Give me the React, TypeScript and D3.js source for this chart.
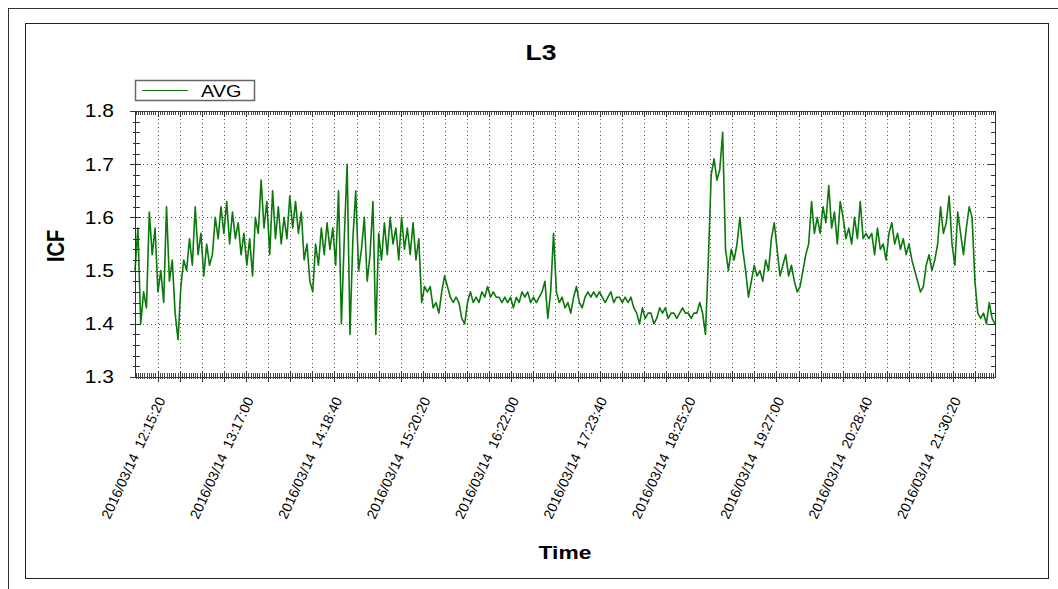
import React from 'react';
import * as d3 from 'd3';

const chartTitle = 'L3';
const seriesName = 'AVG';
const yAxisTitle = 'ICF';
const xAxisTitle = 'Time';
const datePrefix = '2016/03/14';
const startTime = '2016-03-14T11:59:30Z';
const endTime = '2016-03-14T21:59:30Z';
const sampleSeconds = 120;

// ICF readings, one every 2 minutes from 11:59:30
const avgValues = [
  1.50, 1.58, 1.40, 1.46, 1.43, 1.61, 1.53, 1.58, 1.46, 1.50,
  1.44, 1.62, 1.48, 1.52, 1.42, 1.37, 1.47, 1.52, 1.50, 1.56,
  1.51, 1.62, 1.53, 1.57, 1.49, 1.55, 1.51, 1.53, 1.60, 1.56,
  1.62, 1.57, 1.63, 1.55, 1.61, 1.56, 1.59, 1.53, 1.57, 1.51,
  1.56, 1.49, 1.60, 1.57, 1.67, 1.58, 1.63, 1.53, 1.65, 1.56,
  1.62, 1.55, 1.60, 1.56, 1.64, 1.58, 1.63, 1.57, 1.61, 1.52,
  1.55, 1.48, 1.46, 1.55, 1.51, 1.58, 1.53, 1.59, 1.54, 1.58,
  1.51, 1.65, 1.40, 1.56, 1.70, 1.38, 1.56, 1.65, 1.50, 1.54,
  1.60, 1.48, 1.53, 1.63, 1.38, 1.57, 1.52, 1.59, 1.53, 1.60,
  1.55, 1.58, 1.52, 1.60, 1.54, 1.58, 1.53, 1.59, 1.52, 1.56,
  1.44, 1.47, 1.46, 1.47, 1.43, 1.44, 1.42, 1.46, 1.49, 1.47,
  1.45, 1.44, 1.45, 1.44, 1.41, 1.40, 1.44, 1.46, 1.44, 1.45,
  1.44, 1.46, 1.45, 1.47, 1.45, 1.46, 1.45, 1.45, 1.44, 1.45,
  1.44, 1.45, 1.43, 1.45, 1.44, 1.46, 1.45, 1.46, 1.44, 1.45,
  1.44, 1.45, 1.46, 1.48, 1.41, 1.46, 1.57, 1.46, 1.44, 1.45,
  1.43, 1.44, 1.42, 1.45, 1.47, 1.44, 1.43, 1.45, 1.46, 1.45,
  1.46, 1.45, 1.46, 1.45, 1.44, 1.45, 1.46, 1.44, 1.45, 1.45,
  1.44, 1.45, 1.44, 1.45, 1.43, 1.42, 1.40, 1.43, 1.41, 1.42,
  1.42, 1.40, 1.41, 1.43, 1.42, 1.43, 1.41, 1.42, 1.42, 1.41,
  1.42, 1.43, 1.42, 1.42, 1.41, 1.42, 1.42, 1.44, 1.42, 1.38,
  1.52, 1.68, 1.71, 1.67, 1.69, 1.76, 1.54, 1.50, 1.54, 1.52,
  1.55, 1.60, 1.54, 1.50, 1.45, 1.48, 1.51, 1.49, 1.50, 1.48,
  1.52, 1.50, 1.56, 1.59, 1.54, 1.49, 1.51, 1.53, 1.49, 1.51,
  1.48, 1.46, 1.47, 1.50, 1.53, 1.55, 1.63, 1.57, 1.60, 1.57,
  1.62, 1.59, 1.66, 1.58, 1.61, 1.55, 1.63, 1.60, 1.56, 1.58,
  1.55, 1.60, 1.56, 1.63, 1.56, 1.57, 1.56, 1.57, 1.53, 1.58,
  1.54, 1.55, 1.52, 1.57, 1.59, 1.55, 1.57, 1.54, 1.56, 1.53,
  1.55, 1.52, 1.50, 1.48, 1.46, 1.47, 1.51, 1.53, 1.50, 1.52,
  1.55, 1.62, 1.57, 1.59, 1.64, 1.55, 1.51, 1.61, 1.57, 1.53,
  1.58, 1.62, 1.60, 1.48, 1.42, 1.41, 1.42, 1.40, 1.44, 1.41,
  1.40,
];

const xTickLabels = ['12:15:20', '13:17:00', '14:18:40', '15:20:20', '16:22:00', '17:23:40', '18:25:20', '19:27:00', '20:28:40', '21:30:20'];
const gridPerLabel = 4;
const minorPerGrid = 10;
const yTicks = [1.3, 1.4, 1.5, 1.6, 1.7, 1.8];
const yMinorStep = 0.02;

const W = 1058;
const H = 589;
const M = { left: 135, right: 995, top: 111, bottom: 377 };
const FONT = "'Liberation Sans', Arial, sans-serif";
const GREEN = '#0b780b';
const SX = 1.2;

export default function App() {
  const t0 = new Date(startTime);
  const t1 = new Date(endTime);
  const x = d3.scaleUtc().domain([t0, t1]).range([M.left, M.right]);
  const y = d3.scaleLinear().domain([1.3, 1.8]).range([M.bottom, M.top]);

  const data = avgValues.map((v, i) => ({ t: new Date(t0.getTime() + i * sampleSeconds * 1000), v }));
  const line = d3.line<{ t: Date; v: number }>().x(d => x(d.t)).y(d => y(d.v));

  const labelTimes = xTickLabels.map(s => new Date(`2016-03-14T${s}Z`));
  const labelStep = labelTimes[1].getTime() - labelTimes[0].getTime();
  const gridStep = labelStep / gridPerLabel;
  const minorStep = gridStep / minorPerGrid;
  const gridTimes: Date[] = [];
  for (let t = labelTimes[0].getTime(); t <= t1.getTime(); t += gridStep) gridTimes.push(new Date(t));
  const minorTimes: Date[] = [];
  let mt = labelTimes[0].getTime();
  while (mt - minorStep >= t0.getTime()) mt -= minorStep;
  for (; mt <= t1.getTime(); mt += minorStep) minorTimes.push(new Date(mt));

  const yMinor = d3.range(1.3, 1.8001, yMinorStep);

  return (
    <svg width={W} height={H} style={{ position: 'absolute', left: 0, top: 0, background: '#fff' }}
      fontFamily={FONT}>
      <rect x={0} y={0} width={W} height={H} fill="#fff" />
      <rect x={8.5} y={8.5} width={W + 20} height={H + 20} fill="none" stroke="#333" />
      <rect x={25.5} y={23.5} width={1023} height={555} fill="none" stroke="#222" />

      <text transform={`translate(541,60) scale(${SX},1)`} textAnchor="middle" fontSize={22} fontWeight="bold">{chartTitle}</text>

      {/* legend */}
      <rect x={135.5} y={80.5} width={119} height={20} fill="#fff" stroke="#666" strokeWidth={1.5} />
      <line x1={142} x2={188} y1={90.5} y2={90.5} stroke={GREEN} strokeWidth={1} />
      <text transform={`translate(201,97) scale(${SX},1)`} fontSize={16.5}>{seriesName}</text>

      {/* grid */}
      {yTicks.slice(1, -1).map(v => (
        <line key={'hg' + v} x1={M.left} x2={M.right} y1={Math.round(y(v)) + 0.5} y2={Math.round(y(v)) + 0.5}
          stroke="#555" strokeDasharray="1 3" />
      ))}
      {gridTimes.map((t, i) => (
        <line key={'vg' + i} x1={Math.round(x(t)) + 0.5} x2={Math.round(x(t)) + 0.5} y1={M.top} y2={M.bottom}
          stroke="#555" strokeDasharray="1 3" />
      ))}

      {/* data */}
      <path d={line(data) || ''} fill="none" stroke={GREEN} strokeWidth={1.6} strokeLinejoin="round" />

      {/* frame */}
      <rect x={M.left + 0.5} y={M.top + 0.5} width={M.right - M.left} height={M.bottom - M.top} fill="none" stroke="#333" />

      {/* y ticks */}
      {yMinor.map((v, i) => {
        const yy = Math.round(y(v)) + 0.5;
        return (
          <g key={'ym' + i} stroke="#333">
            <line x1={M.left - 2} x2={M.left + 5} y1={yy} y2={yy} />
            <line x1={M.right - 4} x2={M.right} y1={yy} y2={yy} />
          </g>
        );
      })}
      {yTicks.map(v => {
        const yy = Math.round(y(v)) + 0.5;
        return (
          <g key={'yt' + v}>
            <line x1={M.left - 5} x2={M.left + 6} y1={yy} y2={yy} stroke="#333" />
            <line x1={M.right - 7} x2={M.right} y1={yy} y2={yy} stroke="#333" />
            <text transform={`translate(114,${y(v)}) scale(${SX},1)`} dy="0.36em" textAnchor="end" fontSize={17.5}>{v.toFixed(1)}</text>
          </g>
        );
      })}

      {/* x ticks */}
      {minorTimes.map((t, i) => {
        const xx = Math.round(x(t)) + 0.5;
        return (
          <g key={'xm' + i} stroke="#444">
            <line x1={xx} x2={xx} y1={M.bottom - 4} y2={M.bottom + 2} />
            <line x1={xx} x2={xx} y1={M.top} y2={M.top + 4} />
          </g>
        );
      })}
      {gridTimes.map((t, i) => {
        const xx = Math.round(x(t)) + 0.5;
        return (
          <g key={'xt' + i} stroke="#333">
            <line x1={xx} x2={xx} y1={M.bottom - 6} y2={M.bottom + 5} />
            <line x1={xx} x2={xx} y1={M.top} y2={M.top + 6} />
          </g>
        );
      })}
      {labelTimes.map((t, i) => (
        <text key={'xl' + i} transform={`translate(${x(t) + 8},400) rotate(-65)`} textAnchor="end" fontSize={14}>
          {`${datePrefix}\u00a0\u00a0${xTickLabels[i]}`}
        </text>
      ))}

      {/* axis titles */}
      <text transform={`translate(55,246) scale(${SX},1) rotate(-90)`} textAnchor="middle" dy="0.36em" fontSize={20} fontWeight="bold">{yAxisTitle}</text>
      <text transform={`translate(565,559) scale(${SX},1)`} textAnchor="middle" fontSize={19} fontWeight="bold">{xAxisTitle}</text>
    </svg>
  );
}
